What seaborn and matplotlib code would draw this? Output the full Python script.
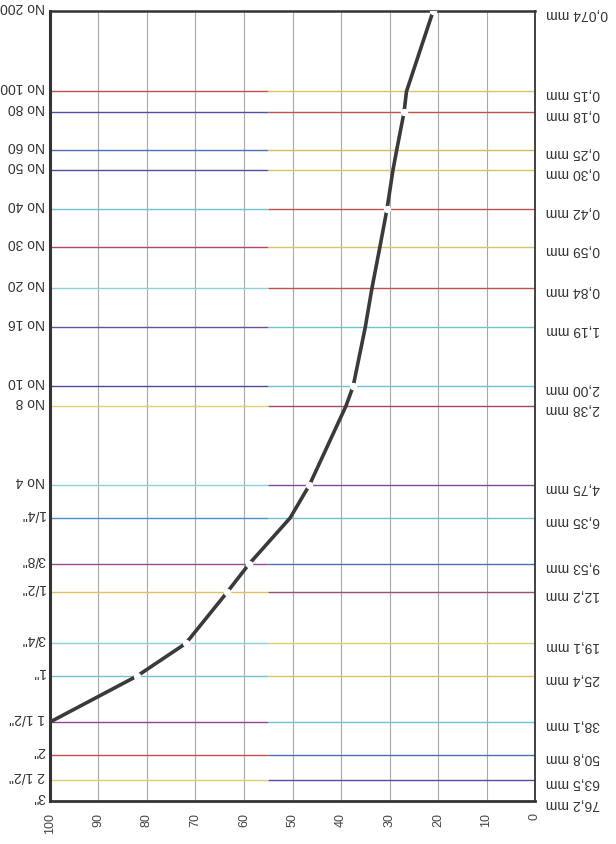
import matplotlib
matplotlib.use("Agg")
import matplotlib.pyplot as plt
import matplotlib.transforms as mtransforms
import pandas as pd
import seaborn as sns

sns.set_style("white")
plt.rcParams["font.family"] = ["Liberation Sans", "DejaVu Sans"]

# ---------- data -------------------------------------------------------
sizes_mm = [0.074, 0.15, 0.18, 0.25, 0.30, 0.42, 0.59, 0.84, 1.19, 2.00,
            2.38, 4.75, 6.35, 9.53, 12.2, 19.1, 25.4, 38.1, 50.8, 63.5, 76.2]
mm_labels = ["0,074 mm", "0,15 mm", "0,18 mm", "0,25 mm", "0,30 mm", "0,42 mm",
             "0,59 mm", "0,84 mm", "1,19 mm", "2,00 mm", "2,38 mm", "4,75 mm",
             "6,35 mm", "9,53 mm", "12,2 mm", "19,1 mm", "25,4 mm", "38,1 mm",
             "50,8 mm", "63,5 mm", "76,2 mm"]
sieve_labels = ["No 200", "No 100", "No 80", "No 60", "No 50", "No 40", "No 30",
                "No 20", "No 16", "No 10", "No 8", "No 4", '1/4"', '3/8"', '1/2"',
                '3/4"', '1"', '1 1/2"', '2"', '2 1/2"', '3"']

curve_sizes = [0.074, 0.15, 0.18, 0.25, 0.30, 0.42, 0.59, 0.84, 1.19, 2.00,
               2.38, 4.75, 6.35, 9.53, 12.2, 19.1, 25.4, 38.1]
curve_pct = [21, 26.5, 27, 28.5, 29.3, 30.5, 32, 33.6, 35, 37.5,
             39, 46.5, 50.5, 59, 63.5, 72, 82, 100]
gap_idx = [0, 2, 5, 9, 11, 13, 14, 15, 16]   # white breaks in the printed curve

pct_ticks = list(range(0, 101, 10))

# scanner tinted the horizontal rules: (left part, right part)
rule_colors = [("#c0504d", "#d9c36a"), ("#4a4fa8", "#c0504d"), ("#4a6fb8", "#d9b95a"),
               ("#4a4fa8", "#d9c36a"), ("#6cc4cf", "#c0504d"), ("#b04a5a", "#d9c36a"),
               ("#8fd0d8", "#c0504d"), ("#6a4fa0", "#6cc4cf"), ("#4a4a9a", "#6cc4cf"),
               ("#e0d070", "#a04a6a"), ("#8fd0d8", "#7a4a9a"), ("#4a8fc8", "#6cc4cf"),
               ("#9a4a8a", "#4a6fb8"), ("#e0c060", "#a04a7a"), ("#8fd0d8", "#e0d070"),
               ("#6cc4cf", "#e0c060"), ("#8a4a8a", "#6cc4cf"), ("#c0504d", "#4a6fb8"),
               ("#e0d070", "#4a4fa8")]

df = pd.DataFrame({"size": curve_sizes, "pct": curve_pct})

fig = plt.figure(figsize=(6.16, 8.45), dpi=100)
ax = fig.add_axes([50 / 616, 1 - 802 / 845, 485 / 616, 790 / 845])

ax.set_yscale("log")
ax.set_ylim(76.2, 0.074)
ax.set_xlim(100, 0)

# vertical grid
for v in pct_ticks:
    ax.axvline(v, color="#a8a8a8", lw=0.8, zorder=1)

# horizontal sieve rules
for s, (cl, cr) in zip(sizes_mm[1:-1], rule_colors):
    ax.hlines(s, 100, 55, color=cl, lw=1.0, zorder=2)
    ax.hlines(s, 55, 0, color=cr, lw=1.0, zorder=2)

# grading curve
sns.lineplot(data=df, x="pct", y="size", ax=ax, color="#3a3a3a", lw=2.6,
             sort=False, estimator=None, zorder=4)
gaps = df.iloc[gap_idx]
ax.scatter(gaps["pct"], gaps["size"], s=28, color="white", lw=0, zorder=5)

for side in ["left", "top", "right", "bottom"]:
    ax.spines[side].set_color("#333333")
ax.spines["left"].set_linewidth(2.2)
ax.spines["top"].set_linewidth(1.8)
ax.spines["right"].set_linewidth(1.3)
ax.spines["bottom"].set_linewidth(2.0)

ax.set_yticks([])
ax.minorticks_off()
ax.set_yticks([], minor=True)
ax.set_xticks(pct_ticks)
ax.set_xticklabels([str(v) for v in pct_ticks], rotation=90, fontsize=9, color="#444444")
ax.tick_params(axis="x", length=0, pad=8)
ax.set_xlabel("")
ax.set_ylabel("")

# upside-down labels on both sides (scan was fed in rotated)
trans = ax.get_yaxis_transform()
left_off = mtransforms.offset_copy(trans, fig=fig, x=-5, y=5, units="dots")
right_off = mtransforms.offset_copy(trans, fig=fig, x=11, y=-2, units="dots")
for s, lab, mm in zip(sizes_mm, sieve_labels, mm_labels):
    ax.text(0, s, lab, transform=left_off, rotation=180, ha="right", va="center",
            fontsize=10, color="#333333")
    ax.text(1, s, mm, transform=right_off, rotation=180, ha="left", va="center",
            fontsize=10, color="#333333")

fig.savefig("out.png", dpi=100)
